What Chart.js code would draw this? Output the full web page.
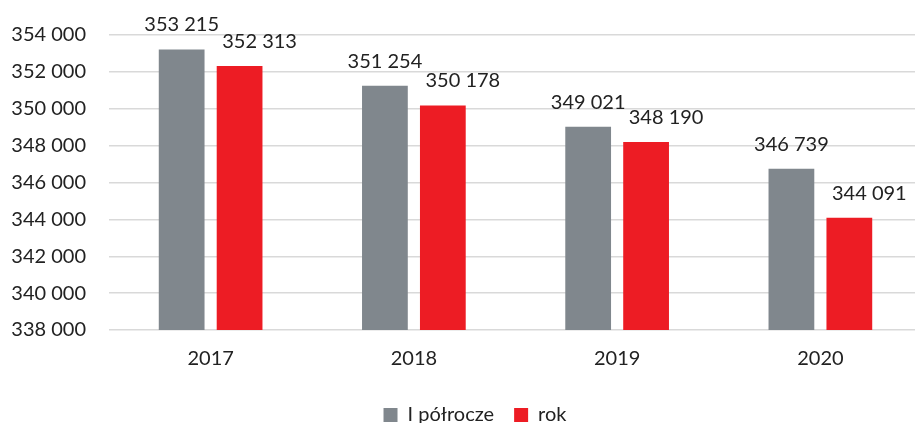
<!DOCTYPE html>
<html>
<head>
<meta charset="utf-8">
<script src="https://cdn.jsdelivr.net/npm/chart.js@4.4.0/dist/chart.umd.min.js"></script>
<style>
  html, body { margin: 0; padding: 0; background: #fff; overflow: hidden; }
</style>
</head>
<body>
<canvas id="chart-canvas" width="922" height="423"></canvas>
<script>
let years = ['2017', '2018', '2019', '2020'];
let halfYearValues = [353215, 351254, 349021, 346739];
let fullYearValues = [352313, 350178, 348190, 344091];
let seriesNames = ['I półrocze', 'rok'];
let yTicks = [338000, 340000, 342000, 344000, 346000, 348000, 350000, 352000, 354000];

function formatNumber(value) {
  return String(value).replace(/\B(?=(\d{3})+(?!\d))/g, ' ');
}

/*labels over the bars*/
let barLabels = {
  id: 'barLabels',
  afterLayout: function(chart) {
    // let the y tick labels draw left of the padded axis box
    chart.scales.y.left = 0;
  },
  afterDatasetsDraw: function(chart) {
    let ctx = chart.ctx;
    let shifts = [0, 20];
    ctx.save();
    ctx.font = '20px Lato';
    ctx.fillStyle = '#222222';
    ctx.textAlign = 'center';
    ctx.textBaseline = 'alphabetic';
    chart.data.datasets.forEach(function(dataset, i) {
      chart.getDatasetMeta(i).data.forEach(function(bar, j) {
        ctx.fillText(formatNumber(dataset.data[j]), bar.x + shifts[i], bar.y - 18);
      });
    });
    ctx.restore();
  }
};

let canvas = document.getElementById('chart-canvas');
let chart = new Chart(canvas, {
  type: 'bar',
  data: {
    labels: years,
    datasets: [{
      label: seriesNames[0],
      data: halfYearValues,
      backgroundColor: '#80878d',
      categoryPercentage: 0.57,
      barPercentage: 0.79
    }, {
      label: seriesNames[1],
      data: fullYearValues,
      backgroundColor: '#ed1c24',
      categoryPercentage: 0.57,
      barPercentage: 0.79
    }]
  },
  options: {
    responsive: false,
    animation: false,
    layout: {
      padding: { top: 33, left: 28, right: 0, bottom: -12 }
    },
    plugins: {
      tooltip: { enabled: false },
      legend: {
        position: 'bottom',
        labels: {
          boxWidth: 14,
          boxHeight: 14,
          padding: 20,
          color: '#222222',
          font: { family: 'Lato', size: 20 }
        }
      }
    },
    scales: {
      x: {
        grid: { display: false },
        border: { display: false },
        ticks: {
          padding: 9,
          color: '#222222',
          font: { family: 'Lato', size: 20 }
        },
        afterFit: function(scale) {
          scale.height += 5;
        }
      },
      y: {
        min: yTicks[0],
        max: yTicks[yTicks.length - 1],
        afterBuildTicks: function(scale) {
          scale.ticks = yTicks.map(v => ({ value: v }));
        },
        afterFit: function(scale) {
          scale.width = 81;
        },
        grid: {
          color: '#d9d9d9',
          lineWidth: 1.5,
          drawTicks: false
        },
        border: { display: false },
        ticks: {
          padding: 23,
          color: '#222222',
          font: { family: 'Lato', size: 20 },
          callback: function(value) {
            return formatNumber(value);
          }
        }
      }
    }
  },
  plugins: [barLabels]
});
</script>
</body>
</html>
